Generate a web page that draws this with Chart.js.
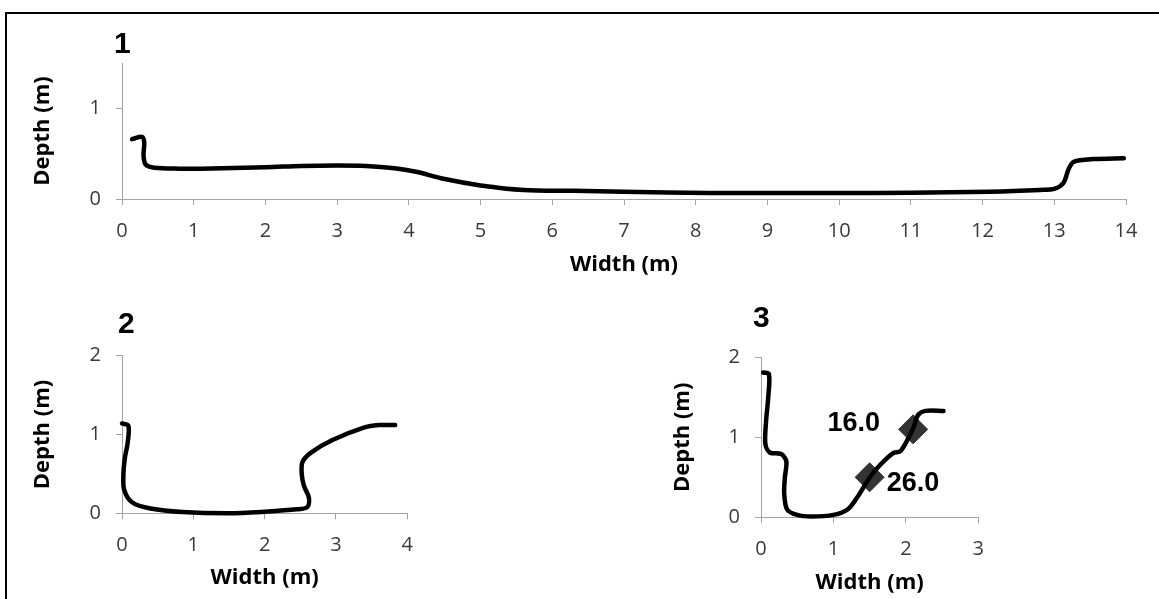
<!DOCTYPE html>
<html>
<head>
<meta charset="utf-8">
<title>Channel cross-sections</title>
<script src="https://cdn.jsdelivr.net/npm/chart.js@4.4.1/dist/chart.umd.min.js"></script>
<style>
  html, body { margin: 0; padding: 0; background: #fff; }
  #page { position: relative; width: 1159px; height: 599px; overflow: hidden; background: #fff; }
  .panel { position: absolute; }
  .panel canvas { display: block; }
  #frame { position: absolute; left: 5px; top: 12px; width: 1300px; height: 800px;
           border-left: 2px solid #000; border-top: 2px solid #000; pointer-events: none; }
</style>
</head>
<body>
<div id="page">
  <div class="panel" style="left:0;top:0;"><canvas id="c1" width="1159" height="290"></canvas></div>
  <div class="panel" style="left:0;top:290px;"><canvas id="c2" width="560" height="309"></canvas></div>
  <div class="panel" style="left:600px;top:290px;"><canvas id="c3" width="559" height="309"></canvas></div>
  <div id="frame"></div>
</div>
<script>
// Section 1 bed profile
const section1Width = [0.14, 0.28, 0.31, 0.30, 0.33, 0.45, 0.80, 1.10, 2.00, 2.50, 3.00, 3.40, 3.80, 4.10, 4.50, 5.00, 5.60, 6.30, 7.00, 8.20, 9.00, 10.00, 11.00, 12.10, 12.80, 13.01, 13.13, 13.20, 13.27, 13.55, 13.97];
const section1Depth = [0.66, 0.685, 0.62, 0.48, 0.38, 0.345, 0.335, 0.335, 0.35, 0.365, 0.37, 0.365, 0.34, 0.30, 0.22, 0.15, 0.10, 0.09, 0.08, 0.066, 0.065, 0.066, 0.07, 0.08, 0.10, 0.115, 0.18, 0.33, 0.41, 0.44, 0.45];

// Section 2 bed profile
const section2Width = [0.00, 0.09, 0.08, 0.04, 0.02, 0.03, 0.14, 0.40, 0.85, 1.50, 2.00, 2.45, 2.60, 2.62, 2.55, 2.52, 2.53, 2.65, 2.95, 3.40, 3.60, 3.83];
const section2Depth = [1.14, 1.11, 0.90, 0.70, 0.50, 0.30, 0.14, 0.06, 0.015, 0.00, 0.02, 0.05, 0.08, 0.20, 0.35, 0.50, 0.65, 0.77, 0.93, 1.09, 1.12, 1.12];

// Section 3 bed profile
const section3Width = [0.03, 0.11, 0.10, 0.07, 0.06, 0.12, 0.28, 0.35, 0.33, 0.32, 0.36, 0.50, 0.70, 1.00, 1.20, 1.35, 1.51, 1.65, 1.82, 1.93, 2.10, 2.17, 2.27, 2.52];
const section3Depth = [1.81, 1.79, 1.50, 1.20, 0.92, 0.81, 0.79, 0.70, 0.50, 0.30, 0.10, 0.03, 0.01, 0.03, 0.10, 0.28, 0.51, 0.66, 0.80, 0.83, 1.11, 1.28, 1.33, 1.33];

// Section 3 sampling points and their readings
const sampleWidth = [2.1, 1.5];
const sampleDepth = [1.1, 0.5];
const sampleLabels = ['16.0', '26.0'];

// Axis ranges and tick steps
const section1XTicks = { min: 0, max: 14, step: 1 };
const section1YTicks = { min: 0, max: 1.5, step: 1 };
const section2XTicks = { min: 0, max: 4, step: 1 };
const section2YTicks = { min: 0, max: 2, step: 1 };
const section3XTicks = { min: 0, max: 3, step: 1 };
const section3YTicks = { min: 0, max: 2, step: 1 };

const toPoints = (xs, ys) => xs.map((x, i) => ({ x: x, y: ys[i] }));

const TICK_FONT = { family: '"Open Sans", sans-serif', size: 20 };
const TITLE_FONT = { family: '"Open Sans", sans-serif', size: 22, weight: 'bold' };
const AXIS_GREY = '#a3a3a3';

// Draws the section number above the plot
const panelNumber = {
  id: 'panelNumber',
  afterDraw(chart, args, opts) {
    const { ctx, chartArea } = chart;
    ctx.save();
    ctx.fillStyle = '#000';
    ctx.font = 'bold 30px "Liberation Sans", Arial, sans-serif';
    ctx.textAlign = 'left';
    ctx.textBaseline = 'alphabetic';
    ctx.fillText(opts.text, chartArea.left + opts.dx, chartArea.top + opts.dy);
    ctx.restore();
  }
};

// Writes the reading next to each sampling point
const sampleText = {
  id: 'sampleText',
  afterDatasetsDraw(chart, args, opts) {
    if (!opts.labels) return;
    const meta = chart.getDatasetMeta(opts.datasetIndex);
    const { ctx } = chart;
    ctx.save();
    ctx.fillStyle = '#000';
    ctx.font = 'bold 27px "Liberation Sans", Arial, sans-serif';
    ctx.textBaseline = 'middle';
    meta.data.forEach((pt, i) => {
      const o = opts.offsets[i];
      ctx.textAlign = o.align;
      ctx.fillText(opts.labels[i], pt.x + o.dx, pt.y + o.dy);
    });
    ctx.restore();
  }
};

function axis(range, title, isY, sizes) {
  return {
    type: 'linear',
    position: isY ? 'left' : 'bottom',
    min: range.min,
    max: range.max,
    afterFit(scale) {
      if (isY) scale.width = sizes.yWidth; else scale.height = sizes.xHeight;
    },
    ticks: {
      stepSize: range.step,
      includeBounds: false,
      autoSkip: false,
      maxRotation: 0,
      padding: isY ? 15 : 14,
      color: '#3a3a3a',
      font: TICK_FONT,
      callback: (v) => v
    },
    grid: {
      display: true,
      drawOnChartArea: false,
      drawTicks: true,
      tickLength: 6,
      color: AXIS_GREY,
      lineWidth: 1
    },
    border: { display: true, color: AXIS_GREY, width: 1 },
    title: {
      display: true,
      text: title,
      color: '#000',
      font: TITLE_FONT,
      padding: isY ? { top: sizes.yTitle, bottom: 0 } : { top: 0, bottom: sizes.xTitle }
    }
  };
}

function makeSection(id, profile, xr, yr, sizes, numberOpts, extra) {
  const datasets = [{
    data: profile,
    showLine: true,
    borderColor: '#000',
    borderWidth: 4.5,
    tension: 0.3,
    pointRadius: 0,
    fill: false,
    clip: false,
    borderCapStyle: 'round',
    borderJoinStyle: 'round'
  }];
  if (extra) datasets.push(extra);
  return new Chart(document.getElementById(id), {
    type: 'scatter',
    data: { datasets: datasets },
    options: {
      responsive: false,
      animation: false,
      events: [],
      layout: { padding: { top: sizes.padTop, right: sizes.padRight, left: 0, bottom: 0 } },
      scales: {
        x: axis(xr, 'Width (m)', false, sizes),
        y: axis(yr, 'Depth (m)', true, sizes)
      },
      plugins: {
        legend: { display: false },
        tooltip: { enabled: false },
        panelNumber: numberOpts,
        sampleText: sizes.sampleText || {}
      }
    },
    plugins: [panelNumber, sampleText]
  });
}

makeSection('c1', toPoints(section1Width, section1Depth), section1XTicks, section1YTicks,
  { padTop: 63, padRight: 33, yWidth: 122, xHeight: 91, yTitle: 30, xTitle: 12 },
  { text: '1', dx: -8, dy: -10 });

makeSection('c2', toPoints(section2Width, section2Depth), section2XTicks, section2YTicks,
  { padTop: 65.7, padRight: 152.7, yWidth: 122, xHeight: 85.7, yTitle: 30, xTitle: 8 },
  { text: '2', dx: -4, dy: -23 });

makeSection('c3', toPoints(section3Width, section3Depth), section3XTicks, section3YTicks,
  { padTop: 67.3, padRight: 180.7, yWidth: 161, xHeight: 81.7, yTitle: 70, xTitle: 3,
    sampleText: { datasetIndex: 1, labels: sampleLabels,
      offsets: [{ align: 'right', dx: -33, dy: -6 }, { align: 'left', dx: 17, dy: 6 }] } },
  { text: '3', dx: -8, dy: -30 },
  {
    data: toPoints(sampleWidth, sampleDepth),
    showLine: false,
    pointStyle: 'rectRot',
    pointRadius: 14.5,
    backgroundColor: '#333333',
    borderColor: '#333333',
    borderWidth: 1,
    clip: false
  });
</script>
</body>
</html>
